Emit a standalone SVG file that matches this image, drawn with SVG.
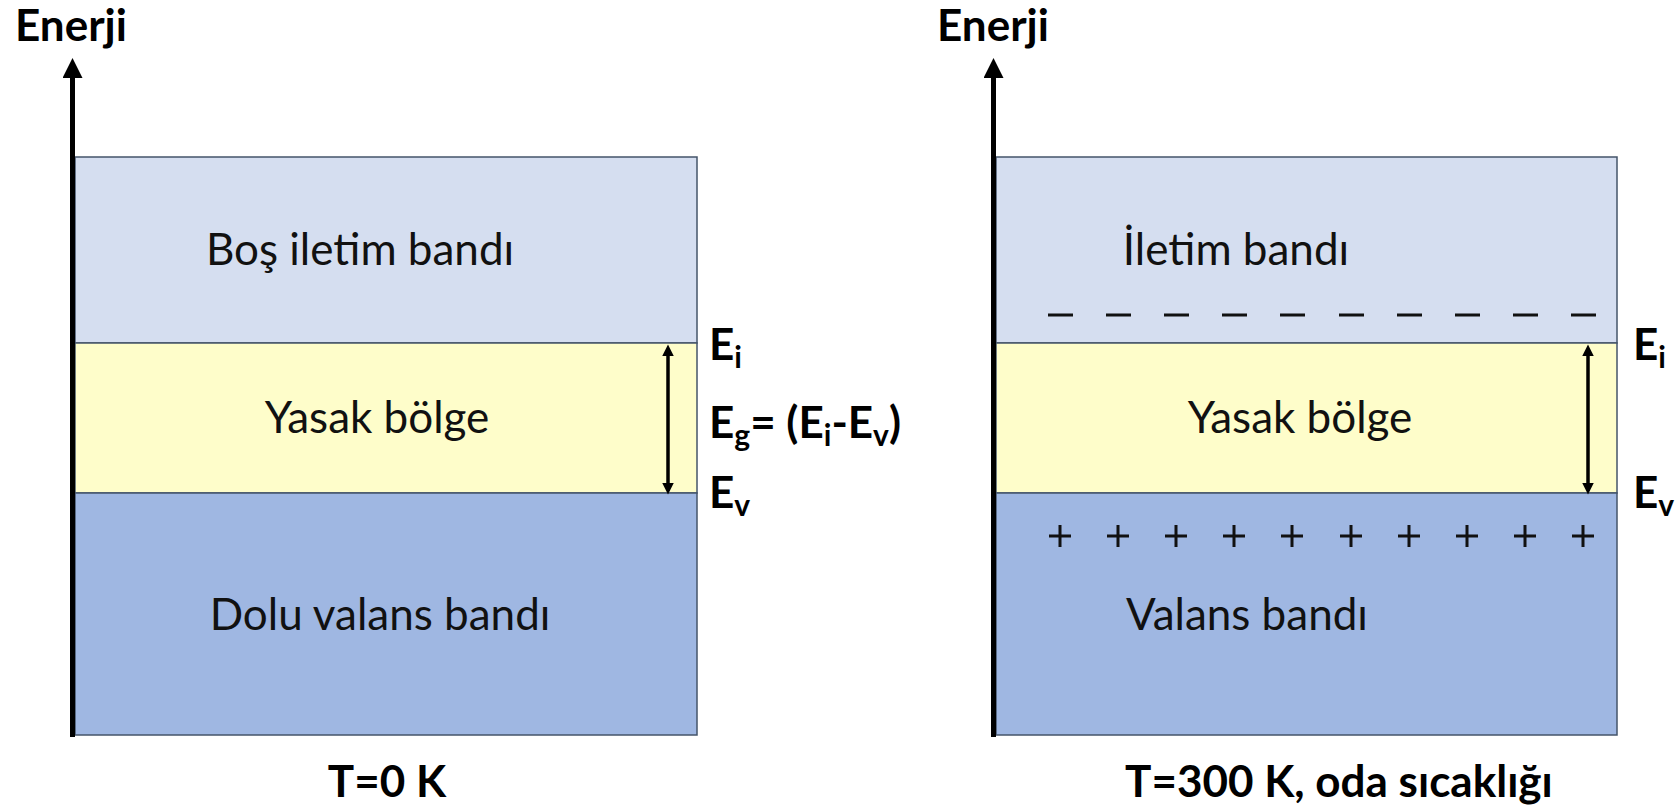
<svg xmlns="http://www.w3.org/2000/svg" width="1677" height="811" viewBox="0 0 1677 811">
  <style>
    .band { stroke: #44546A; stroke-width: 1.5; }
    .cond { fill: #D5DEF0; }
    .gap { fill: #FEFDCA; }
    .val { fill: #9FB7E2; }
    .axis { stroke: #000; stroke-width: 5; fill: none; }
    .gapArrow { stroke: #000; stroke-width: 3.5; fill: none; }
    .body { font-family: "Lato", "Liberation Sans", sans-serif; font-size: 44px; fill: #111; text-anchor: middle; }
    .lbl { font-family: "Lato", "Liberation Sans", sans-serif; font-size: 44px; font-weight: bold; fill: #000; }
    .mid { text-anchor: middle; }
    .sub { font-size: 30px; }
    .carrier { stroke: #111; stroke-width: 3; }
  </style>
  <defs>
    <marker id="axisHead" viewBox="0 0 10 10" refX="1" refY="5" markerWidth="4" markerHeight="4" orient="auto" markerUnits="strokeWidth">
      <path d="M0,0 L10,5 L0,10 z" fill="#000"/>
    </marker>
    <marker id="gapHead" viewBox="0 0 10 10" refX="2" refY="5" markerWidth="3.4" markerHeight="3.4" orient="auto-start-reverse" markerUnits="strokeWidth">
      <path d="M0,0 L10,5 L0,10 z" fill="#000"/>
    </marker>
  </defs>

  <!-- T = 0 K panel -->
  <g id="band-left-conduction">
    <rect class="band cond" x="75" y="157" width="622" height="186"/>
    <text class="body" x="360" y="265">Boş iletim bandı</text>
  </g>
  <g id="band-left-gap">
    <rect class="band gap" x="75" y="343" width="622" height="150"/>
    <text class="body" x="377" y="433">Yasak bölge</text>
  </g>
  <g id="band-left-valence">
    <rect class="band val" x="75" y="493" width="622" height="242"/>
    <text class="body" x="380" y="630">Dolu valans bandı</text>
  </g>
  <g id="axis-left">
    <line class="axis" x1="72.5" y1="737" x2="72.5" y2="76" marker-end="url(#axisHead)"/>
    <text class="lbl" x="15" y="41">Enerji</text>
  </g>
  <g id="labels-left">
    <text class="lbl" x="709" y="360">E<tspan class="sub" dy="8">i</tspan></text>
    <text class="lbl" x="709" y="438">E<tspan class="sub" dy="8">g</tspan><tspan dy="-8">= (E</tspan><tspan class="sub" dy="8">i</tspan><tspan dy="-8">-E</tspan><tspan class="sub" dy="8">v</tspan><tspan dy="-8">)</tspan></text>
    <text class="lbl" x="709" y="508">E<tspan class="sub" dy="8">v</tspan></text>
    <text class="lbl mid" x="387" y="797">T=0 K</text>
  </g>

  <!-- T = 300 K panel -->
  <g id="band-right-conduction">
    <rect class="band cond" x="996" y="157" width="621" height="186"/>
    <text class="body" x="1236" y="265">İletim bandı</text>
  </g>
  <g id="band-right-gap">
    <rect class="band gap" x="996" y="343" width="621" height="150"/>
    <text class="body" x="1300" y="433">Yasak bölge</text>
  </g>
  <g id="band-right-valence">
    <rect class="band val" x="996" y="493" width="621" height="242"/>
    <text class="body" x="1247" y="630">Valans bandı</text>
  </g>
  <g id="electrons">
    <path class="carrier" d="M1048,315h25 M1106,315h25 M1164,315h25 M1222,315h25 M1280,315h25 M1339,315h25 M1397,315h25 M1455,315h25 M1513,315h25 M1571,315h25"/>
  </g>
  <g id="holes">
    <path class="carrier" d="M1049,536h22 M1060,525v22 M1107,536h22 M1118,525v22 M1165,536h22 M1176,525v22 M1223,536h22 M1234,525v22 M1281,536h22 M1292,525v22 M1340,536h22 M1351,525v22 M1398,536h22 M1409,525v22 M1456,536h22 M1467,525v22 M1514,536h22 M1525,525v22 M1572,536h22 M1583,525v22"/>
  </g>
  <g id="axis-right">
    <line class="axis" x1="993.5" y1="737" x2="993.5" y2="76" marker-end="url(#axisHead)"/>
    <text class="lbl" x="937" y="41">Enerji</text>
  </g>
  <g id="labels-right">
    <text class="lbl" x="1633" y="360">E<tspan class="sub" dy="8">i</tspan></text>
    <text class="lbl" x="1633" y="508">E<tspan class="sub" dy="8">v</tspan></text>
    <text class="lbl" x="1125" y="797">T=300 K, oda sıcaklığı</text>
  </g>

  <!-- band-gap arrows -->
  <g id="connectors">
    <line class="gapArrow" x1="668" y1="354" x2="668" y2="485" marker-start="url(#gapHead)" marker-end="url(#gapHead)"/>
    <line class="gapArrow" x1="1588" y1="354" x2="1588" y2="485" marker-start="url(#gapHead)" marker-end="url(#gapHead)"/>
  </g>
</svg>
